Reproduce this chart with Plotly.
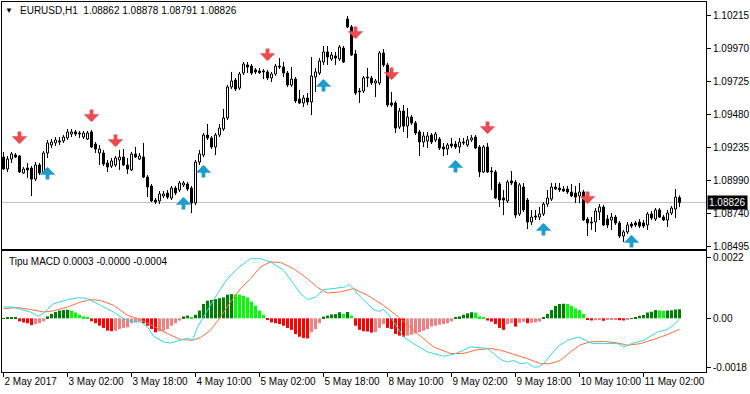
import plotly.graph_objects as go

# ---------------- data (EURUSD H1) ----------------
OPEN = [1.09164,1.09075,1.09149,1.09179,1.09172,1.09045,1.09082,1.09082,1.09000,1.09105,
        1.09045,1.09194,1.09254,1.09269,1.09284,1.09284,1.09306,1.09336,1.09351,1.09343,
        1.09313,1.09298,1.09351,1.09261,1.09194,1.09194,1.09120,1.09097,1.09105,1.09142,
        1.09164,1.09105,1.09068,1.09187,1.09149,1.09164,1.09015,1.08948,1.08844,1.08837,
        1.08874,1.08896,1.08859,1.08933,1.08919,1.08956,1.08963,1.08933,1.08822,1.09127,
        1.09179,1.09328,1.09306,1.09239,1.09328,1.09373,1.09455,1.09686,1.09738,1.09678,
        1.09790,1.09850,1.09842,1.09813,1.09805,1.09805,1.09798,1.09753,1.09783,1.09842,
        1.09835,1.09790,1.09701,1.09745,1.09596,1.09567,1.09604,1.09574,1.09760,1.09790,
        1.09872,1.09947,1.09894,1.09917,1.09894,1.09976,1.10192,1.10133,1.09932,1.09656,
        1.09656,1.09760,1.09753,1.09716,1.09716,1.09939,1.09850,1.09567,1.09567,1.09388,
        1.09507,1.09395,1.09462,1.09418,1.09351,1.09276,1.09284,1.09328,1.09291,1.09298,
        1.09239,1.09224,1.09261,1.09261,1.09239,1.09276,1.09254,1.09291,1.09313,1.09239,
        1.09053,1.09239,1.09060,1.09053,1.08963,1.08859,1.08837,1.08986,1.08978,1.08740,
        1.08941,1.08844,1.08680,1.08725,1.08717,1.08740,1.08814,1.08851,1.08941,1.08933,
        1.08926,1.08926,1.08904,1.08896,1.08874,1.08904,1.08702,1.08680,1.08680,1.08755,
        1.08792,1.08702,1.08695,1.08717,1.08673,1.08576,1.08606,1.08665,1.08673,1.08680,
        1.08673,1.08658,1.08740,1.08702,1.08770,1.08717,1.08695,1.08747,1.08777,1.08862]
HIGH = [1.09202,1.09172,1.09202,1.09194,1.09179,1.09090,1.09120,1.09097,1.09127,1.09120,
        1.09209,1.09291,1.09298,1.09313,1.09313,1.09328,1.09373,1.09373,1.09366,1.09358,
        1.09358,1.09358,1.09366,1.09276,1.09254,1.09217,1.09142,1.09157,1.09172,1.09217,
        1.09224,1.09157,1.09202,1.09239,1.09194,1.09269,1.09030,1.08963,1.08859,1.08911,
        1.08911,1.08919,1.08948,1.08948,1.08986,1.08986,1.08978,1.08948,1.09142,1.09217,
        1.09343,1.09410,1.09321,1.09343,1.09410,1.09522,1.09701,1.09798,1.09753,1.09798,
        1.09872,1.09872,1.09857,1.09827,1.09827,1.09820,1.09813,1.09798,1.09857,1.09902,
        1.09872,1.09805,1.09835,1.09760,1.09664,1.09626,1.09641,1.09909,1.09827,1.09902,
        1.09991,1.09991,1.09947,1.09947,1.09999,1.09991,1.10215,1.10148,1.09962,1.09678,
        1.09768,1.09827,1.09768,1.09745,1.09954,1.09969,1.09865,1.09649,1.09582,1.09529,
        1.09552,1.09529,1.09477,1.09433,1.09366,1.09351,1.09351,1.09343,1.09351,1.09313,
        1.09269,1.09269,1.09306,1.09284,1.09306,1.09306,1.09321,1.09328,1.09328,1.09254,
        1.09254,1.09269,1.09090,1.09068,1.08978,1.08919,1.08993,1.09060,1.08993,1.08971,
        1.08971,1.08859,1.08770,1.08770,1.08792,1.08829,1.08919,1.08971,1.08971,1.08971,
        1.08948,1.08948,1.08963,1.08948,1.08971,1.08919,1.08717,1.08717,1.08784,1.08814,
        1.08807,1.08732,1.08747,1.08732,1.08688,1.08621,1.08680,1.08680,1.08688,1.08702,
        1.08695,1.08755,1.08762,1.08784,1.08784,1.08732,1.08770,1.08799,1.08926,1.08878]
LOW = [1.09068,1.09053,1.09120,1.09157,1.09045,1.09038,1.09008,1.08874,1.08986,1.09030,
       1.09038,1.09157,1.09231,1.09246,1.09254,1.09269,1.09291,1.09313,1.09321,1.09306,
       1.09298,1.09291,1.09231,1.09194,1.09105,1.09097,1.09053,1.09082,1.09090,1.09068,
       1.09097,1.09038,1.09060,1.09157,1.09142,1.09008,1.08866,1.08829,1.08814,1.08814,
       1.08859,1.08851,1.08844,1.08881,1.08904,1.08941,1.08911,1.08747,1.08807,1.09105,
       1.09164,1.09291,1.09224,1.09179,1.09313,1.09358,1.09440,1.09671,1.09656,1.09664,
       1.09775,1.09790,1.09775,1.09783,1.09783,1.09745,1.09738,1.09723,1.09768,1.09820,
       1.09760,1.09686,1.09686,1.09567,1.09559,1.09537,1.09552,1.09477,1.09649,1.09775,
       1.09850,1.09850,1.09880,1.09850,1.09880,1.09865,1.10125,1.09917,1.09626,1.09567,
       1.09641,1.09686,1.09701,1.09611,1.09701,1.09835,1.09537,1.09537,1.09343,1.09373,
       1.09351,1.09306,1.09403,1.09328,1.09172,1.09239,1.09231,1.09261,1.09276,1.09217,
       1.09172,1.09179,1.09231,1.09224,1.09194,1.09254,1.09239,1.09276,1.09224,1.09015,
       1.09045,1.09045,1.08919,1.08851,1.08792,1.08732,1.08822,1.08956,1.08710,1.08725,
       1.08755,1.08628,1.08658,1.08695,1.08695,1.08725,1.08792,1.08837,1.08919,1.08904,
       1.08904,1.08889,1.08866,1.08822,1.08822,1.08688,1.08576,1.08621,1.08606,1.08695,
       1.08650,1.08635,1.08621,1.08658,1.08561,1.08531,1.08591,1.08635,1.08643,1.08635,
       1.08635,1.08621,1.08695,1.08688,1.08710,1.08688,1.08643,1.08732,1.08710,1.08791]
CLOSE = [1.09075,1.09149,1.09187,1.09164,1.09053,1.09075,1.09068,1.09000,1.09105,1.09045,
         1.09194,1.09269,1.09276,1.09291,1.09276,1.09313,1.09351,1.09351,1.09336,1.09336,
         1.09343,1.09343,1.09239,1.09224,1.09224,1.09112,1.09090,1.09135,1.09157,1.09164,
         1.09105,1.09075,1.09187,1.09164,1.09172,1.09015,1.08941,1.08837,1.08829,1.08889,
         1.08889,1.08866,1.08933,1.08896,1.08971,1.08971,1.08926,1.08822,1.09127,1.09187,
         1.09328,1.09306,1.09239,1.09328,1.09380,1.09455,1.09686,1.09731,1.09671,1.09783,
         1.09857,1.09835,1.09790,1.09798,1.09793,1.09798,1.09753,1.09783,1.09842,1.09835,
         1.09790,1.09701,1.09745,1.09582,1.09567,1.09604,1.09574,1.09768,1.09798,1.09880,
         1.09947,1.09909,1.09924,1.09902,1.09984,1.09872,1.10133,1.09924,1.09641,1.09649,
         1.09753,1.09753,1.09716,1.09731,1.09939,1.09850,1.09552,1.09552,1.09380,1.09507,
         1.09395,1.09462,1.09418,1.09343,1.09276,1.09321,1.09321,1.09276,1.09336,1.09231,
         1.09224,1.09254,1.09246,1.09239,1.09276,1.09269,1.09291,1.09306,1.09231,1.09053,
         1.09239,1.09053,1.09053,1.08859,1.08844,1.08844,1.08978,1.08971,1.08732,1.08956,
         1.08770,1.08680,1.08717,1.08717,1.08740,1.08814,1.08859,1.08941,1.08926,1.08919,
         1.08911,1.08904,1.08874,1.08866,1.08904,1.08695,1.08673,1.08673,1.08762,1.08792,
         1.08658,1.08658,1.08717,1.08673,1.08576,1.08606,1.08658,1.08650,1.08658,1.08650,
         1.08650,1.08740,1.08710,1.08770,1.08717,1.08695,1.08747,1.08784,1.08866,1.08826]

TIME_TICK_BARS = [0, 16, 32, 48, 64, 80, 96, 112, 128, 144, 160]
TIME_TICK_LABELS = ["2 May 2017", "3 May 02:00", "3 May 18:00", "4 May 10:00",
                    "5 May 02:00", "5 May 18:00", "8 May 10:00", "9 May 02:00",
                    "9 May 18:00", "10 May 10:00", "11 May 02:00"]
PRICE_TICKS = [1.10215, 1.09970, 1.09725, 1.09480, 1.09235, 1.08990, 1.08740, 1.08495]
PRICE_TICK_LABELS = ["1.10215", "1.09970", "1.09725", "1.09480", "1.09235",
                     "1.08990", "1.08740", "1.08495"]
LAST_PRICE = 1.08826
HEADER = "EURUSD,H1  1.08862 1.08878 1.08791 1.08826"

# histogram, in units of 1e-4
HIST_E4 = [0.10, 0.15, 0.20, 0.25,
           -1.1, -1.5, -1.8, -2.5, -2.1, -1.8, -1.1,
           0.7, 1.6, 2.3, 2.8, 3.0, 3.1,
           2.8, 2.1, 1.3, 0.7, 0.4,
           -1.1, -1.8, -2.7, -3.5, -4.5, -4.7,
           -4.5, -3.9, -3.5, -3.3, -1.8, -1.5, -1.2,
           -1.8, -2.7, -3.9, -5.1,
           -4.7, -4.5, -3.9, -2.7, -1.8, -0.8,
           0.7, 1.0, 0.4, 1.3,
           2.8, 5.2, 6.4, 6.7, 7.0, 7.3, 7.6, 8.6, 8.8,
           8.7, 8.6, 8.2, 7.6, 6.1, 4.6, 2.8, 1.3,
           -0.6, -1.5, -1.8, -2.1, -2.7, -3.5, -4.2, -5.7, -6.7, -7.2, -7.3,
           -5.1, -3.9, -1.8,
           0.6, 1.0, 1.4, 1.5, 2.2, 1.6, 2.3, 1.0,
           -2.7, -4.2, -4.7, -4.8, -5.2,
           -5.0, -3.5, -2.1,
           -3.5, -3.9, -5.7, -6.3, -6.7,
           -6.3, -6.0, -5.5, -5.1, -4.5, -3.9, -3.0, -2.7, -2.3, -2.1, -1.8, -1.1,
           0.4, 0.7, 1.3, 1.8, 2.2,
           2.1, 0.7, 0.3,
           -0.8, -1.2, -2.1, -3.5, -4.2,
           -2.1, -1.8, -3.0, -1.6, -1.2, -1.8, -1.6, -1.5, -1.2,
           0.2, 1.6, 3.0, 4.5, 5.2, 5.3,
           5.2, 4.5, 3.6, 3.0, 1.6,
           -0.5, -0.8, -0.7, -0.6, -0.9, -0.6, -0.5, -0.4, -0.7, -0.8, -0.5,
           0.1, 0.3, 0.9, 1.2, 2.1, 2.4, 3.0,
           2.9, 2.7, 2.8, 2.9, 3.2, 3.3]

MACD_X = [0, 2.5, 4.25, 6.75, 8.75, 10, 12.5, 16, 18.75, 21, 24.25, 27.5, 30, 32.25, 34.25,
          36, 37.5, 40, 41.75, 44.25, 46, 47.25, 48.5, 51, 53.5, 56, 58.5, 61.75, 64.25,
          66.75, 70, 72.5, 74.25, 76, 78, 80, 83.5, 85.5, 86.25, 87.5, 89.25, 92.5, 93.75,
          95, 96.75, 98.5, 100, 102.5, 106, 110, 112.5, 115, 116.75, 119.25, 121, 122.5,
          124.25, 126, 127.5, 129.25, 131, 132.5, 133.75, 135, 136.75, 138.5, 141, 143.75,
          145.5, 147.25, 150, 153.5, 155, 157.5, 160, 163.5, 166, 167.5, 169]
MACD_E4 = [4.1, 4.1, 3.2, 2.3, 0.7, 1.9, 5.3, 6.8, 7.5, 7.2, 4.7, 2.3, -0.1, -1.3, -1.3,
           -3.2, -6.5, -8.6, -9.0, -8.0, -7.2, -8.0, -3.2, 2.9, 9.0, 14.4, 18.1, 21.7, 21.7,
           20.5, 17.5, 12.6, 9.0, 6.8, 7.7, 10.4, 11.2, 11.4, 12.4, 10.8, 7.7, 3.2, 2.5,
           3.2, 0.5, -3.7, -6.8, -9.2, -12.2, -13.8, -13.1, -11.6, -10.4, -10.7, -11.0, -12.8,
           -15.0, -15.9, -15.3, -16.5, -16.2, -17.7, -17.7, -16.5, -13.5, -10.4, -8.0, -6.8,
           -8.0, -9.2, -9.2, -9.2, -10.4, -9.0, -8.0, -5.0, -4.1, -2.5, -0.3]
SIG_X = [0, 3.5, 6.75, 10, 12.5, 16, 19.25, 21.75, 24.25, 27.5, 31, 34.25, 37.5, 41, 44.25,
         47.25, 49.25, 51.75, 54.25, 56.75, 59.25, 61.75, 64.25, 66.75, 69.25, 72.5, 76, 78.5,
         81, 84.25, 87.5, 91, 95, 99.25, 103.5, 107.5, 111.75, 115, 118.5, 121.75, 124.25,
         127.5, 131, 134.25, 136.75, 139.25, 141.75, 144.25, 146.75, 150, 153.5, 156, 159.25,
         162.5, 166, 169]
SIG_E4 = [3.5, 3.9, 3.2, 2.3, 2.7, 4.1, 5.9, 6.8, 6.5, 4.7, 1.1, -0.5, -2.9, -5.6, -7.7,
          -8.0, -7.0, -4.4, 0.5, 5.9, 10.8, 14.4, 18.7, 20.5, 20.3, 18.1, 14.4, 11.2,
          9.2, 9.6, 10.8, 8.4, 4.7, -0.1, -5.6, -10.4, -12.8, -12.8, -11.4, -11.0, -11.6,
          -13.1, -14.7, -16.5, -16.5, -15.3, -12.2, -9.6, -8.6, -8.4, -9.0, -9.8, -9.2,
          -7.7, -5.9, -4.0]
MACD_TICKS = [0.0022, 0.0, -0.0018]
MACD_TICK_LABELS = ["0.0022", "0.00", "-0.0018"]
MACD_HEADER = "Tipu MACD 0.0003 -0.0000 -0.0004"

RED_ARROW_BARS = [4, 22, 28, 66, 88, 97, 121, 146]
RED_ARROW_PRICES = [1.09261, 1.09425, 1.09239, 1.09880, 1.10043, 1.09738, 1.09336, 1.08814]
BLUE_ARROW_BARS = [11, 45, 50, 80, 113, 135, 157]
BLUE_ARROW_PRICES = [1.09090, 1.08866, 1.09105, 1.09745, 1.09142, 1.08673, 1.08583]

# ---------------- figure ----------------
FONT = "Liberation Sans"
FS = 10
n = len(CLOSE)
bars = list(range(n))

body_base = [min(o, c) for o, c in zip(OPEN, CLOSE)]
body_h = [max(abs(c - o), 0.000012) for o, c in zip(OPEN, CLOSE)]
body_fill = ["white" if c >= o else "black" for o, c in zip(OPEN, CLOSE)]

wx, wy = [], []
for i in bars:
    top = max(OPEN[i], CLOSE[i]); bot = min(OPEN[i], CLOSE[i])
    wx += [i, i, None, i, i, None]
    wy += [HIGH[i], top, None, bot, LOW[i], None]

hist = [v * 1e-4 for v in HIST_E4]
hcol = []
for i, v in enumerate(hist):
    prev = hist[i - 1] if i > 0 else v
    if v >= 0:
        hcol.append("#008000" if v >= prev else "#00FF00")
    else:
        hcol.append("#FF0000" if v < prev else "#F08080")

fig = go.Figure()
fig.add_trace(go.Scatter(x=wx, y=wy, mode="lines", line=dict(color="black", width=1),
                         xaxis="x", yaxis="y", hoverinfo="skip"))
fig.add_trace(go.Bar(x=bars, y=body_h, base=body_base, width=0.5,
                     marker=dict(color=body_fill, line=dict(color="black", width=1)),
                     xaxis="x", yaxis="y", hoverinfo="skip"))
fig.add_trace(go.Bar(x=bars, y=hist, width=0.75, marker=dict(color=hcol, line=dict(width=0)),
                     xaxis="x2", yaxis="y2", hoverinfo="skip"))
fig.add_trace(go.Scatter(x=SIG_X, y=[v * 1e-4 for v in SIG_E4], mode="lines",
                         line=dict(color="#F5703C", width=1), xaxis="x2", yaxis="y2"))
fig.add_trace(go.Scatter(x=MACD_X, y=[v * 1e-4 for v in MACD_E4], mode="lines",
                         line=dict(color="#2FD8E6", width=1), xaxis="x2", yaxis="y2"))

XR = [-0.375, 175.625]
axis_common = dict(showline=True, linecolor="black", linewidth=1, mirror=True,
                   showgrid=False, zeroline=False, tickcolor="black", automargin=False,
                   tickfont=dict(family=FONT, size=FS, color="black"))

annotations = [
    dict(text="▼", x=0.0099, y=0.9757, xref="paper", yref="paper", xanchor="center",
         yanchor="middle", showarrow=False, font=dict(family=FONT, size=8, color="black")),
    dict(text=HEADER, x=0.0227, y=0.9757, xref="paper", yref="paper", xanchor="left",
         yanchor="middle", showarrow=False, font=dict(family=FONT, size=FS, color="black")),
    dict(text=MACD_HEADER, x=0.0071, y=0.30, xref="paper", yref="paper", xanchor="left",
         yanchor="middle", showarrow=False, font=dict(family=FONT, size=FS, color="black")),
    dict(text=f"{LAST_PRICE:.5f}", x=1, y=LAST_PRICE, xref="paper", yref="y", xanchor="left",
         yanchor="middle", xshift=1, showarrow=False, bgcolor="black", borderpad=1,
         font=dict(family=FONT, size=FS, color="white")),
]
for b, p in zip(RED_ARROW_BARS, RED_ARROW_PRICES):
    annotations.append(dict(text="", x=b, y=p, xref="x", yref="y", showarrow=True,
                            ax=0, ay=-14, arrowhead=1, arrowsize=0.68, arrowwidth=3.8,
                            arrowcolor="#EC4B50"))
for b, p in zip(BLUE_ARROW_BARS, BLUE_ARROW_PRICES):
    annotations.append(dict(text="", x=b, y=p, xref="x", yref="y", showarrow=True,
                            ax=0, ay=14, arrowhead=1, arrowsize=0.68, arrowwidth=3.8,
                            arrowcolor="#1E9DCD"))

fig.update_layout(
    width=750, height=394,
    margin=dict(l=2, r=44, t=2, b=22, autoexpand=False),
    paper_bgcolor="white", plot_bgcolor="white",
    showlegend=False, hovermode=False, barmode="overlay",
    font=dict(family=FONT, size=FS, color="black"),
    xaxis=dict(domain=[0, 1], range=XR, anchor="y", showticklabels=False, ticks="", **axis_common),
    yaxis=dict(domain=[0.3324, 1], range=[1.08479, 1.10319], anchor="x", side="right",
               tickvals=PRICE_TICKS, ticktext=PRICE_TICK_LABELS, ticks="outside", ticklen=4,
               **axis_common),
    xaxis2=dict(domain=[0, 1], range=XR, anchor="y2", tickvals=TIME_TICK_BARS,
                ticktext=TIME_TICK_LABELS, ticks="outside", ticklen=4, tickangle=0,
                ticklabelposition="outside right", **axis_common),
    yaxis2=dict(domain=[0, 0.327], range=[-0.001953, 0.002447], anchor="x2", side="right",
                tickvals=MACD_TICKS, ticktext=MACD_TICK_LABELS, ticks="outside", ticklen=4,
                **axis_common),
    shapes=[dict(type="line", xref="paper", yref="y", x0=0, x1=1, y0=LAST_PRICE, y1=LAST_PRICE,
                 line=dict(color="#C0C0C0", width=1), layer="below")],
    annotations=annotations,
)

fig.write_html("out.html", config={"displayModeBar": False},
               post_script="document.body.style.margin='0';document.body.style.overflow='hidden';")
